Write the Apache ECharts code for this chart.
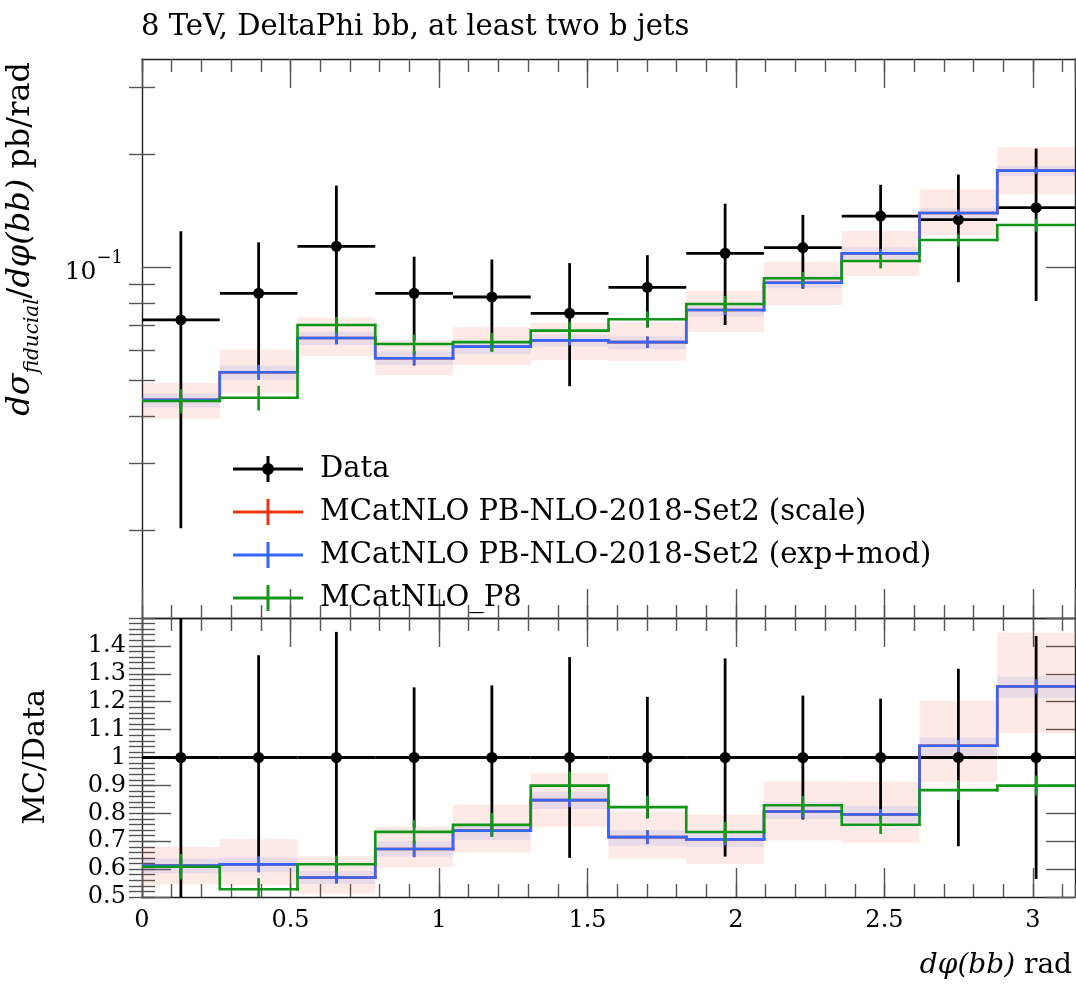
<!DOCTYPE html>
<html>
<head>
<meta charset="utf-8">
<script src="https://cdn.jsdelivr.net/npm/echarts@6/dist/echarts.min.js"></script>
</head>
<body style="margin:0; background:#fff">
<div id="container" style="width:1076px;height:986px"></div>
<script>
// bins in dphi(bb), 12 bins of pi/12
var binEdges = [0, 0.2618, 0.5236, 0.7854, 1.0472, 1.3090, 1.5708, 1.8326, 2.0944, 2.3562, 2.6180, 2.8798, 3.1416];

// measured data
var dataVal = [0.0723, 0.0851, 0.1135, 0.0851, 0.0832, 0.0753, 0.0883, 0.1087, 0.1126, 0.1366, 0.1336, 0.1438];
var dataErr = [0.0521, 0.0312, 0.0511, 0.0214, 0.0215, 0.0271, 0.0192, 0.0386, 0.0250, 0.0288, 0.0425, 0.0626];

// MCatNLO PB-NLO-2018-Set2 (scale): central + scale band
var scaleVal = [0.0443, 0.0525, 0.0647, 0.0572, 0.0614, 0.0638, 0.0631, 0.0768, 0.0908, 0.1087, 0.1392, 0.1804];
var scaleErr = [0.0018, 0.0024, 0.0024, 0.0025, 0.0018, 0.0019, 0.0022, 0.0023, 0.0027, 0.0027, 0.0028, 0.0036];
var scaleLo  = [0.0394, 0.0463, 0.0581, 0.0516, 0.0549, 0.0566, 0.0563, 0.0673, 0.0792, 0.0948, 0.1217, 0.1563];
var scaleHi  = [0.0491, 0.0602, 0.0733, 0.0640, 0.0691, 0.0711, 0.0711, 0.0865, 0.1031, 0.1247, 0.1609, 0.2081];

// MCatNLO PB-NLO-2018-Set2 (exp+mod)
var expVal = [0.0443, 0.0525, 0.0647, 0.0572, 0.0614, 0.0638, 0.0631, 0.0768, 0.0908, 0.1087, 0.1392, 0.1804];
var expErr = [0.0018, 0.0024, 0.0024, 0.0025, 0.0018, 0.0019, 0.0022, 0.0023, 0.0027, 0.0027, 0.0028, 0.0036];
var expLo  = [0.0423, 0.0501, 0.0620, 0.0549, 0.0587, 0.0614, 0.0604, 0.0738, 0.0878, 0.1048, 0.1347, 0.1746];
var expHi  = [0.0461, 0.0546, 0.0673, 0.0596, 0.0633, 0.0660, 0.0653, 0.0797, 0.0946, 0.1128, 0.1432, 0.1856];

// MCatNLO_P8
var p8Val = [0.0440, 0.0449, 0.0701, 0.0624, 0.0631, 0.0677, 0.0726, 0.0797, 0.0933, 0.1037, 0.1180, 0.1293];
var p8Err = [0.0033, 0.0034, 0.0035, 0.0037, 0.0036, 0.0038, 0.0036, 0.0040, 0.0037, 0.0046, 0.0047, 0.0052];

// axis ranges / ticks
var yTopRange = [0.01165, 0.3574];
var yTopMajor = [0.1];
var yTopMinor = [0.02, 0.03, 0.04, 0.05, 0.06, 0.07, 0.08, 0.09, 0.2, 0.3];
var ratioRange = [0.5, 1.5];

var serif = 'DejaVu Serif';
var cRed = '#EE3311', cBlue = '#3366FF', cGreen = '#109618';
var frameStyle = {color: '#222', width: 1.4};
var tickStyle = {color: '#555', width: 1.4};

var dom = document.getElementById('container');
var myChart = echarts.init(dom);

function ratio(arr) {
  return arr.map(function (v, i) { return v / dataVal[i]; });
}
function centre(i) { return (binEdges[i] + binEdges[i + 1]) / 2; }

function xAxes(gi, withLabels) {
  var list = [];
  ['bottom', 'top'].forEach(function (pos) {
    list.push({
      type: 'value', gridIndex: gi, position: pos, min: binEdges[0], max: binEdges[12], interval: 0.5,
      axisLine: {show: true, onZero: false, lineStyle: frameStyle},
      axisTick: {show: true, inside: true, length: 29, lineStyle: tickStyle},
      axisLabel: {show: withLabels && pos === 'bottom', showMaxLabel: false, margin: 12,
        fontFamily: serif, fontSize: 24, color: '#000'},
      splitLine: {show: false}
    });
    list.push({
      type: 'value', gridIndex: gi, position: pos, min: binEdges[0], max: binEdges[12], interval: 0.1,
      axisLine: {show: false},
      axisTick: {show: true, inside: true, length: 13, lineStyle: tickStyle},
      axisLabel: {show: false}, splitLine: {show: false}
    });
  });
  return list;
}

function topYAxes() {
  var list = [];
  ['left', 'right'].forEach(function (pos) {
    list.push({
      type: 'log', gridIndex: 0, position: pos, min: yTopRange[0], max: yTopRange[1],
      axisLine: {show: true, onZero: false, lineStyle: frameStyle},
      axisTick: {show: true, inside: true, length: 29, lineStyle: tickStyle, customValues: yTopMajor},
      axisLabel: {show: pos === 'left', customValues: yTopMajor, margin: 19,
        formatter: function () { return '{b|10}{p|\u22121}'; },
        rich: {
          b: {fontFamily: serif, fontSize: 25, lineHeight: 36, verticalAlign: 'bottom', color: '#000'},
          p: {fontFamily: serif, fontSize: 18, lineHeight: 14, verticalAlign: 'top', color: '#000'}
        }},
      splitLine: {show: false}
    });
    list.push({
      type: 'log', gridIndex: 0, position: pos, min: yTopRange[0], max: yTopRange[1],
      axisLine: {show: false},
      axisTick: {show: true, inside: true, length: 13, lineStyle: tickStyle, customValues: yTopMinor},
      axisLabel: {show: false}, splitLine: {show: false}
    });
  });
  return list;
}

function ratioYAxes() {
  var list = [];
  ['left', 'right'].forEach(function (pos) {
    list.push({
      type: 'value', gridIndex: 1, position: pos, min: ratioRange[0], max: ratioRange[1], interval: 0.1,
      axisLine: {show: true, onZero: false, lineStyle: frameStyle},
      axisTick: {show: true, inside: true, length: 29, lineStyle: tickStyle},
      axisLabel: {show: pos === 'left', showMaxLabel: false, margin: 16,
        fontFamily: serif, fontSize: 24, color: '#000'},
      splitLine: {show: false}
    });
    list.push({
      type: 'value', gridIndex: 1, position: pos, min: ratioRange[0], max: ratioRange[1], interval: 0.02,
      axisLine: {show: false},
      axisTick: {show: true, inside: true, length: 13, lineStyle: tickStyle},
      axisLabel: {show: false}, splitLine: {show: false}
    });
  });
  return list;
}

function bandSeries(name, lo, hi, color, xi, yi) {
  return {
    type: 'custom', name: name, xAxisIndex: xi, yAxisIndex: yi, clip: true, silent: true, z: 1,
    data: lo.map(function (l, i) { return [binEdges[i], binEdges[i + 1], l, hi[i]]; }),
    encode: {x: [0, 1], y: [2, 3]},
    renderItem: function (params, api) {
      var p1 = api.coord([api.value(0), api.value(3)]);
      var p2 = api.coord([api.value(1), api.value(2)]);
      return {type: 'rect', shape: {x: p1[0], y: p1[1], width: p2[0] - p1[0], height: p2[1] - p1[1]},
        style: {fill: color}};
    }
  };
}

function histSeries(name, vals, errs, color, xi, yi, z) {
  return {
    type: 'custom', name: name, xAxisIndex: xi, yAxisIndex: yi, clip: true, silent: true, z: z,
    data: vals.map(function (v, i) {
      return [binEdges[i], binEdges[i + 1], v, i > 0 ? vals[i - 1] : v, centre(i), v - errs[i], v + errs[i]];
    }),
    encode: {x: [0, 1], y: 2},
    renderItem: function (params, api) {
      var a = api.coord([api.value(0), api.value(3)]);
      var b = api.coord([api.value(0), api.value(2)]);
      var c = api.coord([api.value(1), api.value(2)]);
      var lo = api.coord([api.value(4), api.value(5)]);
      var hi = api.coord([api.value(4), api.value(6)]);
      return {type: 'group', children: [
        {type: 'polyline', shape: {points: [a, b, c]},
          style: {stroke: color, lineWidth: 2.6, fill: 'none', lineCap: 'square', lineJoin: 'miter'}},
        {type: 'line', shape: {x1: lo[0], y1: lo[1], x2: hi[0], y2: hi[1]},
          style: {stroke: color, lineWidth: 2.6}}
      ]};
    }
  };
}

function dataSeries(vals, errs, xi, yi) {
  return {
    type: 'custom', name: 'Data', xAxisIndex: xi, yAxisIndex: yi, clip: true, silent: true, z: 3,
    data: vals.map(function (v, i) {
      return [centre(i), binEdges[i], binEdges[i + 1], v, v - errs[i], v + errs[i]];
    }),
    encode: {x: 0, y: 3},
    renderItem: function (params, api) {
      var l = api.coord([api.value(1), api.value(3)]);
      var r = api.coord([api.value(2), api.value(3)]);
      var m = api.coord([api.value(0), api.value(3)]);
      var lo = api.coord([api.value(0), api.value(4)]);
      var hi = api.coord([api.value(0), api.value(5)]);
      return {type: 'group', children: [
        {type: 'line', shape: {x1: l[0], y1: l[1], x2: r[0], y2: r[1]}, style: {stroke: '#000', lineWidth: 2.8}},
        {type: 'line', shape: {x1: lo[0], y1: lo[1], x2: hi[0], y2: hi[1]}, style: {stroke: '#000', lineWidth: 2.8}},
        {type: 'circle', shape: {cx: m[0], cy: m[1], r: 5.5}, style: {fill: '#000'}}
      ]};
    }
  };
}

var nameData = 'Data';
var nameScale = 'MCatNLO PB-NLO-2018-Set2 (scale)';
var nameExp = 'MCatNLO PB-NLO-2018-Set2 (exp+mod)';
var nameP8 = 'MCatNLO_P8';

var dataRatioVal = dataVal.map(function () { return 1; });
var dataRatioErr = ratio(dataErr);

var series = [
  // top panel
  bandSeries('scale band', scaleLo, scaleHi, 'rgba(238,51,17,0.11)', 0, 0),
  bandSeries('exp+mod band', expLo, expHi, 'rgba(51,102,255,0.10)', 0, 0),
  dataSeries(dataVal, dataErr, 0, 0),
  histSeries(nameScale, scaleVal, scaleErr, cRed, 0, 0, 4),
  histSeries(nameExp, expVal, expErr, cBlue, 0, 0, 5),
  histSeries(nameP8, p8Val, p8Err, cGreen, 0, 0, 6),
  // ratio panel
  bandSeries('scale band ratio', ratio(scaleLo), ratio(scaleHi), 'rgba(238,51,17,0.11)', 4, 4),
  bandSeries('exp+mod band ratio', ratio(expLo), ratio(expHi), 'rgba(51,102,255,0.10)', 4, 4),
  dataSeries(dataRatioVal, dataRatioErr, 4, 4),
  histSeries(nameScale, ratio(scaleVal), ratio(scaleErr), cRed, 4, 4, 4),
  histSeries(nameExp, ratio(expVal), ratio(expErr), cBlue, 4, 4, 5),
  histSeries(nameP8, ratio(p8Val), ratio(p8Err), cGreen, 4, 4, 6)
];

var mcIcon = 'path://M0,11.5h70v3H0z M33.5,0h3v26h-3z';
var dataIcon = 'path://M0,11.5h70v3H0z M33.5,0h3v26h-3z M35,7a6,6 0 1,1 -0.01,0z';

var option = {
  animation: false,
  backgroundColor: '#fff',
  title: {
    text: '8 TeV, DeltaPhi bb, at least two b jets', left: 136, top: 8,
    textStyle: {fontFamily: serif, fontWeight: 'normal', fontSize: 29, color: '#000'}
  },
  grid: [
    {left: 142, top: 59, width: 933, height: 559},
    {left: 142, top: 618, width: 933, height: 279}
  ],
  xAxis: xAxes(0, false).concat(xAxes(1, true)),
  yAxis: topYAxes().concat(ratioYAxes()),
  legend: {
    orient: 'vertical', left: 233, top: 454, itemWidth: 70, itemHeight: 26, itemGap: 13,
    selectedMode: false, padding: 0,
    textStyle: {fontFamily: serif, fontSize: 29, color: '#000', lineHeight: 30, padding: [0, 0, 0, 12]},
    data: [
      {name: nameData, icon: dataIcon, itemStyle: {color: '#000'}},
      {name: nameScale, icon: mcIcon, itemStyle: {color: cRed}},
      {name: nameExp, icon: mcIcon, itemStyle: {color: cBlue}},
      {name: nameP8, icon: mcIcon, itemStyle: {color: cGreen}}
    ]
  },
  graphic: [
    {type: 'text', right: 4, top: 952, style: {
      text: '{i|d\u03c6(bb)} rad', fontFamily: serif, fontSize: 28, fill: '#000',
      rich: {i: {fontFamily: serif, fontStyle: 'italic', fontSize: 28}}}},
    {type: 'text', x: 36, y: 757, rotation: Math.PI / 2, style: {
      text: 'MC/Data', fontFamily: serif, fontSize: 30, fill: '#000', align: 'center', verticalAlign: 'middle'}},
    {type: 'text', x: 24, y: 62, rotation: Math.PI / 2, style: {
      text: '{m|d\u03c3}{s|fiducial}{n|/}{m|d\u03c6(bb)}{n| pb/rad}',
      fill: '#000', align: 'right', verticalAlign: 'middle',
      rich: {
        m: {fontFamily: serif, fontStyle: 'italic', fontSize: 32, lineHeight: 38, verticalAlign: 'top'},
        s: {fontFamily: serif, fontStyle: 'italic', fontSize: 20, lineHeight: 18, verticalAlign: 'bottom'},
        n: {fontFamily: serif, fontSize: 32, lineHeight: 38, verticalAlign: 'top'}
      }}}
  ],
  series: series
};

myChart.setOption(option);
</script>
</body>
</html>
